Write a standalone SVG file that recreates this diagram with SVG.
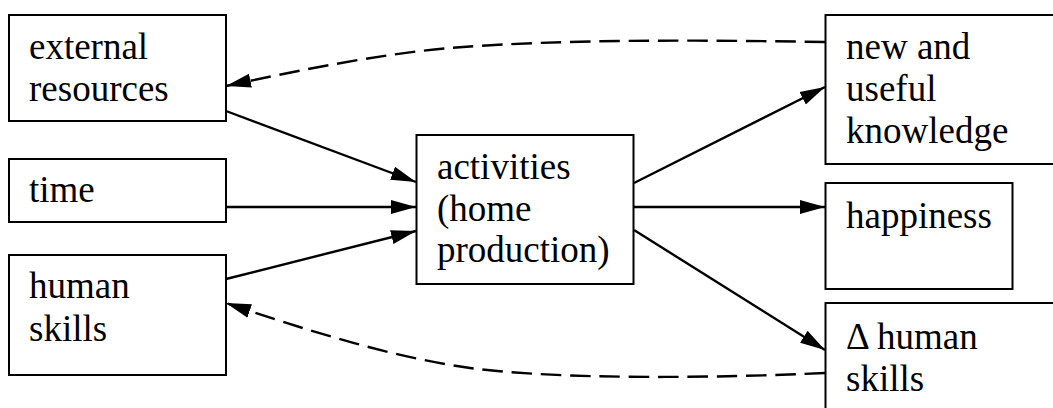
<svg xmlns="http://www.w3.org/2000/svg" width="1053" height="408" viewBox="0 0 1053 408">
<style>
.box{fill:#fff;stroke:#000;stroke-width:2}
text{font-family:'Liberation Serif','Times New Roman',serif;font-size:37px;fill:#000}
.e{fill:none;stroke:#000;stroke-width:2.4}
.d{stroke-dasharray:20.5,8.8}
</style>
<defs>
<marker id="ah" markerUnits="userSpaceOnUse" markerWidth="26" markerHeight="15" refX="25" refY="7.5" orient="auto" viewBox="0 0 26 15">
<path d="M0,0.5 L25,7.5 L0,14.5 z" fill="#000"/>
</marker>
</defs>
<rect width="1053" height="408" fill="#fff"/>
<g id="connectors">
<path class="e" d="M226,111 L416,182" marker-end="url(#ah)"/>
<path class="e" d="M226,207 L416,207" marker-end="url(#ah)"/>
<path class="e" d="M226,279 L416,231" marker-end="url(#ah)"/>
<path class="e" d="M634,183 L825,87" marker-end="url(#ah)"/>
<path class="e" d="M634,207 L825,207" marker-end="url(#ah)"/>
<path class="e" d="M634,230 L825,350" marker-end="url(#ah)"/>
<path class="e d" d="M825,42 C 700,40 560,39 450,48 C 380,54 300,70 226,86" marker-end="url(#ah)"/>
<path class="e d" d="M825,373 C 720,378 560,380 470,368 C 390,357 300,328 226,303" marker-end="url(#ah)"/>
</g>
<g id="external_resources">
<rect class="box" x="9" y="15" width="217" height="106"/>
<text x="29" y="59">external</text>
<text x="29" y="101">resources</text>
</g>
<g id="time">
<rect class="box" x="9" y="159" width="217" height="63"/>
<text x="29" y="202">time</text>
</g>
<g id="human_skills">
<rect class="box" x="9" y="255" width="217" height="120"/>
<text x="29" y="298">human</text>
<text x="29" y="341">skills</text>
</g>
<g id="activities">
<rect class="box" x="416.5" y="135" width="217" height="149"/>
<text x="437" y="179">activities</text>
<text x="437" y="221">(home</text>
<text x="437" y="262">production)</text>
</g>
<g id="new_knowledge">
<rect class="box" x="825.5" y="15" width="250" height="149"/>
<text x="846" y="59">new and</text>
<text x="846" y="101">useful</text>
<text x="846" y="143">knowledge</text>
</g>
<g id="happiness">
<rect class="box" x="825.5" y="183" width="187" height="106"/>
<text x="846" y="228">happiness</text>
</g>
<g id="delta_human_skills">
<rect class="box" x="825.5" y="303" width="250" height="120"/>
<text x="846" y="349">Δ human</text>
<text x="846" y="391">skills</text>
</g>
</svg>
